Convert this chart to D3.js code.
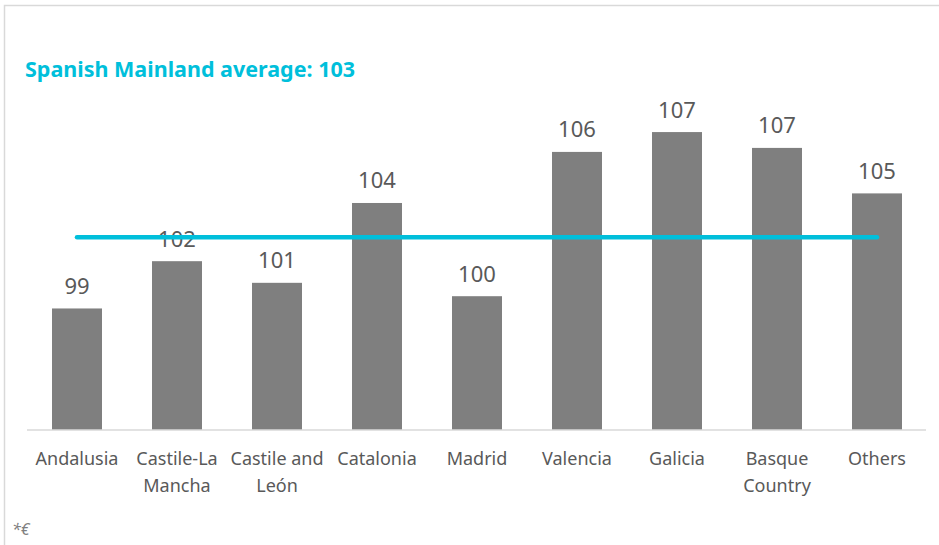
<!DOCTYPE html>
<html>
<head>
<meta charset="utf-8">
<script src="https://cdn.jsdelivr.net/npm/d3@7"></script>
<style>
  body { margin: 0; background: #fff; }
  svg { display: block; }
</style>
</head>
<body>
<svg id="chart" width="939" height="545"></svg>
<script>
// data
var regions = ["Andalusia", "Castile-La Mancha", "Castile and León", "Catalonia", "Madrid",
               "Valencia", "Galicia", "Basque Country", "Others"];
var values = [99.45, 101.57, 100.6, 104.18, 100.0, 106.47, 107.36, 106.65, 104.61];
var mainlandAverage = 102.64;
var yDomain = [94, 108];

var width = 939, height = 545;
var margin_left = 27, margin_right = 12, margin_top = 117.8, axis_y = 430;
var bar_color = "#7f7f7f", text_color = "#595959", avg_color = "#00bfdb", frame_color = "#d9d9d9";
var fmt = d3.format(".0f");

var svg = d3.select("#chart");

// frame
svg.append("path")
    .attr("d", "M4.5,545 V5.5 H939")
    .attr("fill", "none")
    .attr("stroke", frame_color)
    .attr("stroke-width", 1.5);

// scales
var x = d3.scaleBand()
    .domain(regions)
    .range([margin_left, width - margin_right])
    .paddingInner(0.5)
    .paddingOuter(0.25);

var y = d3.scaleLinear()
    .domain(yDomain)
    .range([axis_y, margin_top]);

// title
svg.append("text")
    .text("Spanish Mainland average: " + fmt(mainlandAverage))
    .attr("x", 25)
    .attr("y", 77)
    .attr("font-family", "Noto Sans")
    .attr("font-size", 21.5)
    .attr("font-weight", "bold")
    .attr("fill", avg_color);

// bars
svg.selectAll("rect.bar")
    .data(values)
    .enter()
    .append("rect")
    .attr("class", "bar")
    .attr("x", function(d, i){ return x(regions[i]); })
    .attr("y", function(d){ return y(d); })
    .attr("width", x.bandwidth())
    .attr("height", function(d){ return y(yDomain[0]) - y(d); })
    .attr("fill", bar_color);

// value labels
svg.selectAll("text.val")
    .data(values)
    .enter()
    .append("text")
    .attr("class", "val")
    .text(function(d){ return fmt(d); })
    .attr("x", function(d, i){ return x(regions[i]) + x.bandwidth()/2; })
    .attr("y", function(d){ return y(d) - 14.5; })
    .attr("text-anchor", "middle")
    .attr("font-family", "Noto Sans")
    .attr("font-size", 22)
    .attr("fill", text_color);

// x axis
var axis = svg.append("g")
    .attr("transform", "translate(0," + axis_y + ")")
    .call(d3.axisBottom(x).tickSize(0).tickPadding(0));

axis.select(".domain")
    .attr("stroke", frame_color)
    .attr("stroke-width", 1.5)
    .attr("d", "M" + margin_left + ",0H" + (width - 13));

axis.selectAll(".tick text")
    .attr("font-family", "Noto Sans")
    .attr("font-size", 18)
    .attr("fill", text_color)
    .attr("dy", null)
    .attr("y", 35)
    .each(function(d){ wrap(d3.select(this), d, 100); });

function wrap(t, str, maxw){
    var words = str.split(" ");
    var lines = [], line = [];
    t.text(null);
    var tmp = t.append("tspan");
    words.forEach(function(w){
        line.push(w);
        tmp.text(line.join(" "));
        if(tmp.node().getComputedTextLength() > maxw && line.length > 1){
            line.pop();
            lines.push(line.join(" "));
            line = [w];
        }
    });
    lines.push(line.join(" "));
    tmp.remove();
    lines.forEach(function(l, i){
        t.append("tspan")
            .attr("x", 0)
            .attr("dy", i == 0 ? 0 : 27)
            .text(l);
    });
}

// average line
svg.append("line")
    .attr("x1", x(regions[0]) + x.bandwidth()/2)
    .attr("x2", x(regions[regions.length-1]) + x.bandwidth()/2)
    .attr("y1", y(mainlandAverage))
    .attr("y2", y(mainlandAverage))
    .attr("stroke", avg_color)
    .attr("stroke-width", 4.5)
    .attr("stroke-linecap", "round");

// footnote
svg.append("text")
    .text("*€")
    .attr("x", 12)
    .attr("y", 535)
    .attr("font-family", "Noto Sans")
    .attr("font-size", 16)
    .attr("font-style", "italic")
    .attr("fill", "#7f7f7f");
</script>
</body>
</html>
